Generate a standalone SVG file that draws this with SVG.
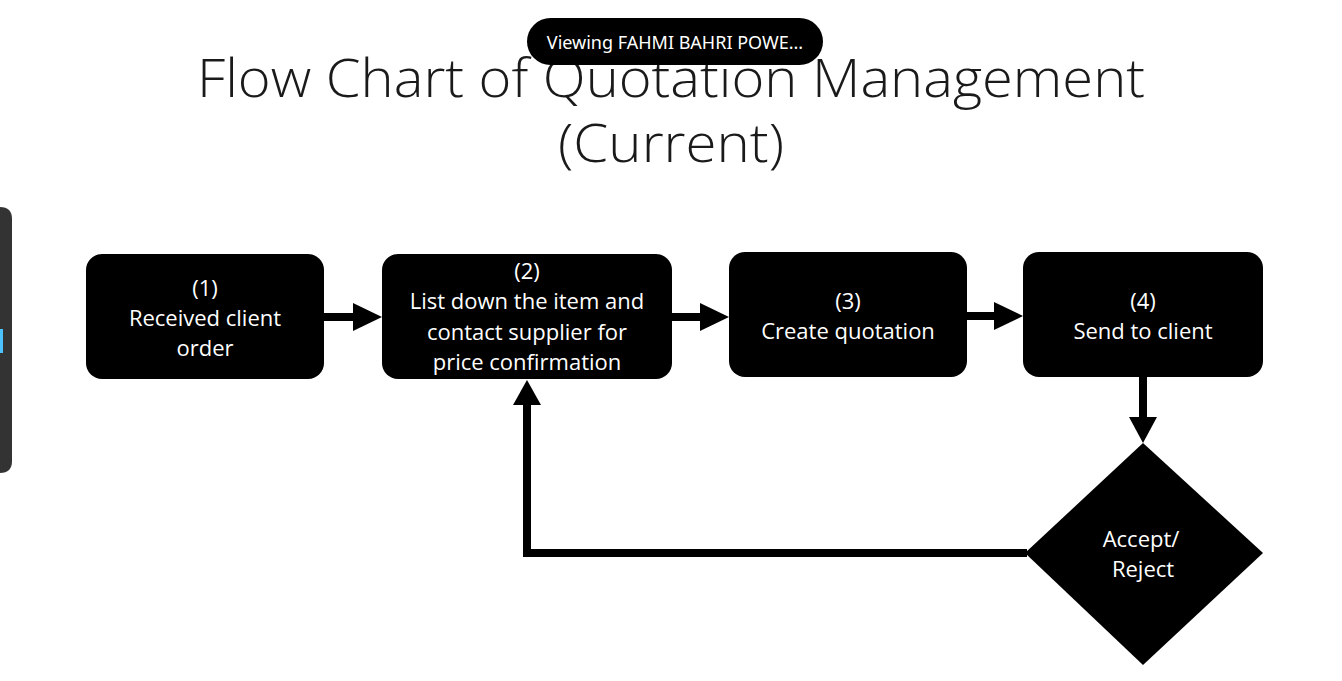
<svg xmlns="http://www.w3.org/2000/svg" width="1342" height="681" viewBox="0 0 1342 681">
  <defs>
    <style>
      .box { fill: #000; }
      .lbl { fill: #fff; font-family: "Open Sans", "Noto Sans", "Liberation Sans", sans-serif; font-size: 22px; text-anchor: middle; }
      .title { fill: #1a1a1a; font-family: "Open Sans", "Noto Sans", "Liberation Sans", sans-serif; font-weight: 300; font-size: 54px; text-anchor: middle; }
      .conn { fill: none; stroke: #000; stroke-width: 8; }
      .head { fill: #000; }
    </style>
  </defs>
  <rect x="0" y="0" width="1342" height="681" fill="#ffffff"/>

  <g id="title">
    <text class="title" x="671" y="97" textLength="948" lengthAdjust="spacingAndGlyphs">Flow Chart of Quotation Management</text>
    <text class="title" x="671" y="162" textLength="226" lengthAdjust="spacingAndGlyphs">(Current)</text>
  </g>

  <g id="side-panel">
    <path d="M0,207 H0 Q12,207 12,219 V461 Q12,473 0,473 Z" fill="#333333"/>
    <rect x="0" y="329" width="3" height="24" fill="#4cc2ff"/>
  </g>

  <g id="connectors">
    <line class="conn" x1="324" y1="317" x2="356" y2="317"/>
    <polygon class="head" points="353,303 382,317 353,331"/>
    <line class="conn" x1="672" y1="317" x2="703" y2="317"/>
    <polygon class="head" points="700,303 729,317 700,331"/>
    <line class="conn" x1="967" y1="316" x2="997" y2="316"/>
    <polygon class="head" points="994,302 1023,316 994,330"/>
    <line class="conn" x1="1143" y1="377" x2="1143" y2="420"/>
    <polygon class="head" points="1129,417 1157,417 1143,443"/>
    <polyline class="conn" points="1027,553 527,553 527,402"/>
    <polygon class="head" points="513,405 541,405 527,380"/>
  </g>

  <g id="node1">
    <rect class="box" x="86" y="254" width="238" height="125" rx="16"/>
    <text class="lbl" x="205" y="296">(1)</text>
    <text class="lbl" x="205" y="326">Received client</text>
    <text class="lbl" x="205" y="356">order</text>
  </g>

  <g id="node2">
    <rect class="box" x="382" y="254" width="290" height="125" rx="16"/>
    <text class="lbl" x="527" y="279">(2)</text>
    <text class="lbl" x="527" y="309">List down the item and</text>
    <text class="lbl" x="527" y="340">contact supplier for</text>
    <text class="lbl" x="527" y="370">price confirmation</text>
  </g>

  <g id="node3">
    <rect class="box" x="729" y="252" width="238" height="125" rx="16"/>
    <text class="lbl" x="848" y="309">(3)</text>
    <text class="lbl" x="848" y="339">Create quotation</text>
  </g>

  <g id="node4">
    <rect class="box" x="1023" y="252" width="240" height="125" rx="16"/>
    <text class="lbl" x="1143" y="309">(4)</text>
    <text class="lbl" x="1143" y="339">Send to client</text>
  </g>

  <g id="decision">
    <polygon class="box" points="1143,443 1263,553 1143,665 1025,553"/>
    <text class="lbl" x="1141" y="547">Accept/</text>
    <text class="lbl" x="1143" y="577">Reject</text>
  </g>

  <g id="viewing-badge">
    <rect x="527" y="18" width="296" height="47" rx="23.5" fill="#000"/>
    <text x="675" y="49" fill="#fff" font-family="'Noto Sans', 'Open Sans', 'Liberation Sans', sans-serif" font-size="18" text-anchor="middle">Viewing FAHMI BAHRI POWE...</text>
  </g>
</svg>
